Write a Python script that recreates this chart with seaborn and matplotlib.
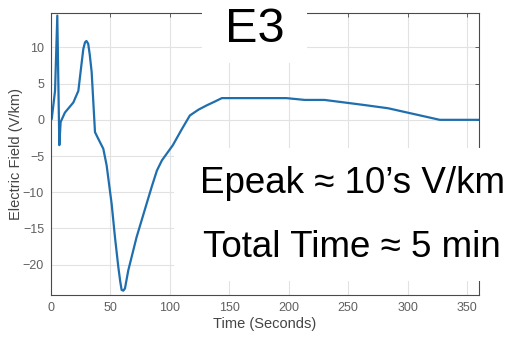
import numpy as np
import pandas as pd
import matplotlib
matplotlib.use("Agg")
import matplotlib.pyplot as plt
import seaborn as sns
from matplotlib.patches import Rectangle

# E3 waveform
time_s = [0, 0.6, 3.4, 5.3, 7.0, 8.1, 11.7, 18.8, 23.0, 25.8, 27.2, 28.6, 29.8, 31.3,
          32.6, 34.2, 37.0, 39.7, 44.0, 46.8, 51.0, 53.8, 56.6, 58.2, 59.4, 60.8, 62.2,
          65.0, 72.0, 80.4, 85.0, 89.1, 93.3, 102.5, 110.0, 116.8, 124.0, 131.0, 137.5,
          143.7, 198.0, 213.4, 230.0, 262.4, 283.5, 327.0, 360.0]
field_vkm = [0.0, 0.1, 4.0, 14.4, -3.5, -0.3, 1.0, 2.4, 4.0, 7.9, 9.8, 10.7, 10.9, 10.5,
             9.0, 6.6, -1.7, -2.6, -4.0, -6.3, -11.6, -16.2, -20.3, -22.3, -23.5, -23.6, -23.3,
             -20.8, -16.2, -11.6, -9.1, -7.0, -5.6, -3.5, -1.3, 0.6, 1.4, 2.0, 2.5,
             3.0, 3.0, 2.75, 2.75, 2.07, 1.6, 0.0, 0.0]

x_ticks = [0, 50, 100, 150, 200, 250, 300, 350]
y_ticks = [-20, -15, -10, -5, 0, 5, 10]

df = pd.DataFrame({"t": time_s, "E": field_vkm})

sns.set_style("white")
plt.rcParams['font.family'] = ['Liberation Sans', 'DejaVu Sans']

fig = plt.figure(figsize=(5.08, 3.37), dpi=100)
ax = fig.add_axes([51 / 508, 1 - 295 / 337, 428 / 508, 282.3 / 337])

sns.lineplot(data=df, x="t", y="E", sort=False, estimator=None, color="#1f6fae", linewidth=1.6, ax=ax)

ax.set_xlim(0, 360)
ax.set_ylim(-24.2, 14.8)
ax.set_xticks(x_ticks)
ax.set_yticks(y_ticks)
ax.grid(True, color="#e2e2e2", linewidth=0.8)
ax.set_axisbelow(True)
for s in ax.spines.values():
    s.set_color("#4a4a4a")
    s.set_linewidth(0.8)
ax.tick_params(direction="in", length=3, width=0.6, color="#4a4a4a", labelcolor="#606060",
               labelsize=9, top=True, right=True, pad=5)
ax.set_xlabel("Time (Seconds)", fontsize=10.5, color="#444444", labelpad=2)
ax.set_ylabel("Electric Field (V/km)", fontsize=10.5, color="#444444", labelpad=1)
ax.yaxis.set_label_coords(-0.066, 0.5)

# white boxes laid over the plot, as in the slide
fig.patches.append(Rectangle((202 / 508, 1 - 63 / 337), 105 / 508, 63 / 337,
                             transform=fig.transFigure, facecolor="white", edgecolor="none", zorder=5))
fig.patches.append(Rectangle((174 / 508, 1 - 281 / 337), 334 / 508, 133 / 337,
                             transform=fig.transFigure, facecolor="white", edgecolor="none", zorder=5))

fig.text(255 / 508, 1 - 42 / 337, "E3", fontsize=35, color="black", ha="center", va="baseline", zorder=6)
fig.text(352 / 508, 1 - 193 / 337, "Epeak \u2248 10\u2019s V/km", fontsize=26.5, color="black",
         ha="center", va="baseline", zorder=6)
fig.text(352 / 508, 1 - 257 / 337, "Total Time \u2248 5 min", fontsize=26.5, color="black",
         ha="center", va="baseline", zorder=6)

fig.savefig("out.png", dpi=100)
